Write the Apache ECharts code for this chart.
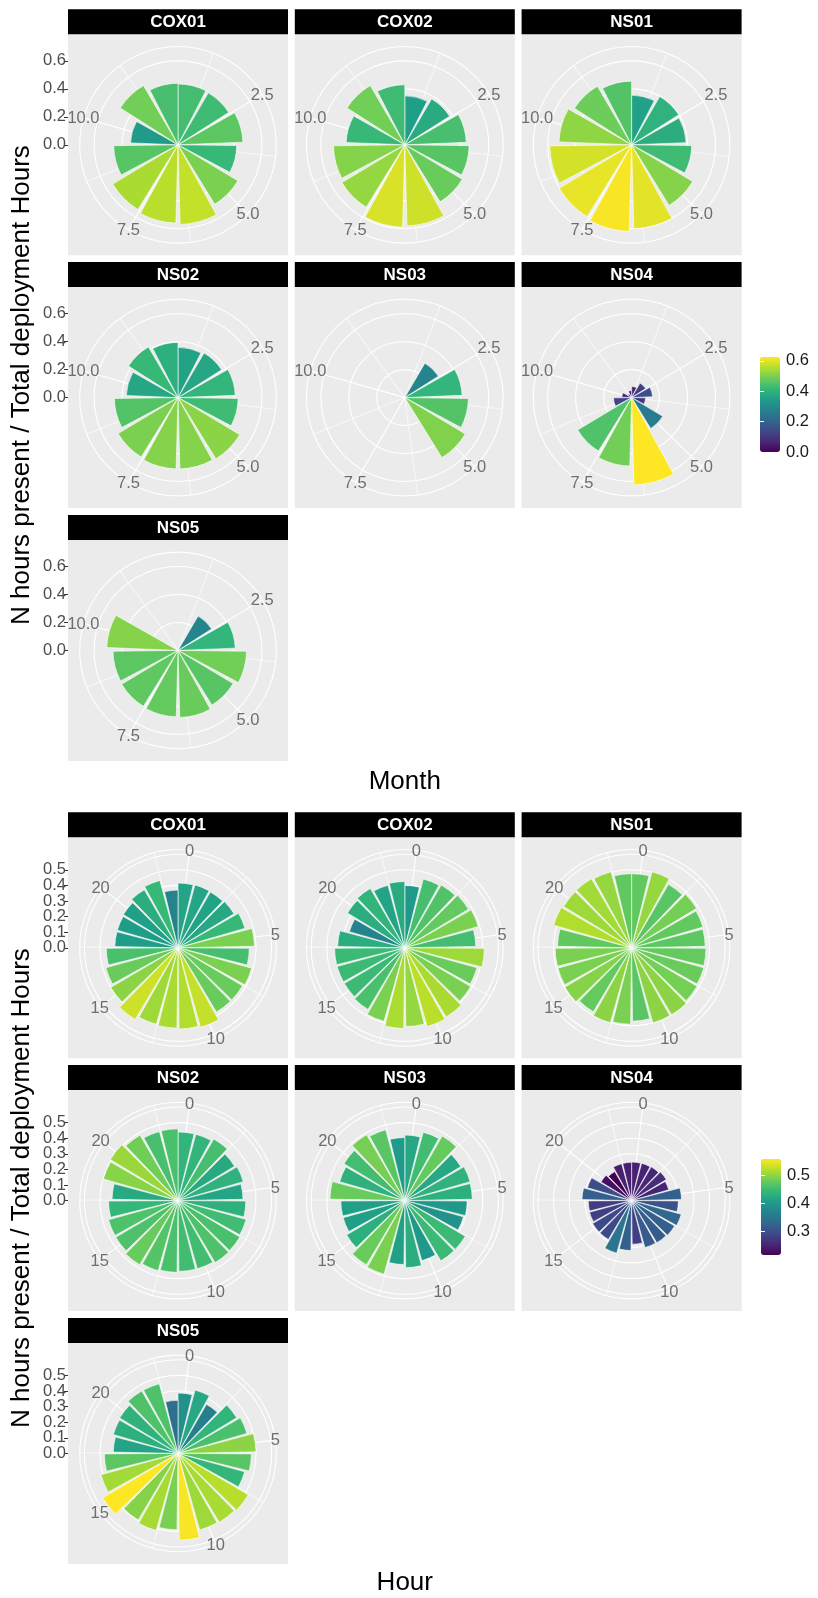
<!DOCTYPE html>
<html><head><meta charset="utf-8">
<script src="https://cdn.jsdelivr.net/npm/echarts@6/dist/echarts.min.js"></script>
<style>html,body{margin:0;padding:0;background:#fff}#c{width:818px;height:1598px}</style>
</head><body><div id="c"></div>
<script>
// ---------------- data ----------------
const stations = ['COX01', 'COX02', 'NS01', 'NS02', 'NS03', 'NS04', 'NS05'];
const months = [1, 2, 3, 4, 5, 6, 7, 8, 9, 10, 11, 12];
const hours = [0, 1, 2, 3, 4, 5, 6, 7, 8, 9, 10, 11, 12, 13, 14, 15, 16, 17, 18, 19, 20, 21, 22, 23];

const monthCOX01 = [0.435, 0.43, 0.465, 0.42, 0.50, 0.57, 0.56, 0.545, 0.46, 0.34, 0.49, 0.44];
const monthCOX02 = [0.35, 0.38, 0.44, 0.46, 0.48, 0.58, 0.59, 0.525, 0.51, 0.42, 0.49, 0.43];
const monthNS01 = [0.355, 0.40, 0.39, 0.43, 0.51, 0.60, 0.62, 0.605, 0.585, 0.52, 0.485, 0.455];
const monthNS02 = [0.36, 0.37, 0.41, 0.43, 0.515, 0.51, 0.51, 0.50, 0.455, 0.37, 0.42, 0.395];
const monthNS03 = [null, 0.285, 0.41, 0.455, 0.505, null, null, null, null, null, null, null];
const monthNS04 = [0.08, 0.12, 0.15, 0.10, 0.26, 0.625, 0.49, 0.45, 0.13, 0.07, 0.03, 0.05];
const monthNS05 = [null, 0.285, 0.41, 0.49, 0.46, 0.48, 0.475, 0.47, 0.465, 0.51, null, null];

const hourCOX01 = [0.415, 0.417, 0.414, 0.42, 0.447, 0.49, 0.457, 0.49, 0.48, 0.48, 0.53, 0.52, 0.515, 0.51, 0.535, 0.50, 0.48, 0.46, 0.405, 0.405, 0.41, 0.43, 0.447, 0.37];
const hourCOX02 = [0.40, 0.457, 0.465, 0.477, 0.49, 0.455, 0.51, 0.48, 0.49, 0.516, 0.525, 0.505, 0.517, 0.49, 0.46, 0.45, 0.45, 0.45, 0.43, 0.37, 0.43, 0.44, 0.415, 0.425];
const hourNS01 = [0.475, 0.505, 0.47, 0.487, 0.476, 0.472, 0.477, 0.48, 0.487, 0.50, 0.50, 0.47, 0.49, 0.50, 0.478, 0.497, 0.49, 0.49, 0.475, 0.52, 0.51, 0.512, 0.505, 0.475];
const hourNS02 = [0.44, 0.44, 0.457, 0.424, 0.436, 0.417, 0.435, 0.453, 0.46, 0.463, 0.454, 0.454, 0.46, 0.467, 0.479, 0.463, 0.462, 0.445, 0.423, 0.498, 0.507, 0.485, 0.458, 0.46];
const hourNS03 = [0.42, 0.454, 0.478, 0.42, 0.436, 0.433, 0.40, 0.39, 0.45, 0.45, 0.40, 0.43, 0.41, 0.49, 0.48, 0.433, 0.41, 0.41, 0.48, 0.435, 0.456, 0.488, 0.47, 0.404];
const hourNS04 = [0.247, 0.248, 0.25, 0.26, 0.248, 0.32, 0.30, 0.33, 0.32, 0.315, 0.313, 0.28, 0.32, 0.35, 0.29, 0.29, 0.28, 0.278, 0.318, 0.295, 0.23, 0.215, 0.245, 0.245];
const hourNS05 = [0.387, 0.42, 0.364, 0.44, 0.46, 0.50, 0.47, 0.443, 0.523, 0.515, 0.51, 0.557, 0.49, 0.514, 0.497, 0.56, 0.512, 0.472, 0.415, 0.432, 0.438, 0.463, 0.462, 0.34];

const monthThetaBreaks = [2.5, 5, 7.5, 10];
const monthThetaLabels = ['2.5', '5.0', '7.5', '10.0'];
const hourThetaBreaks = [0, 5, 10, 15, 20];
const hourThetaLabels = ['0', '5', '10', '15', '20'];
const monthRBreaks = [0, 0.2, 0.4, 0.6];
const monthRLabels = ['0.0', '0.2', '0.4', '0.6'];
const hourRBreaks = [0, 0.1, 0.2, 0.3, 0.4, 0.5];
const hourRLabels = ['0.0', '0.1', '0.2', '0.3', '0.4', '0.5'];
const monthLegendBreaks = [0, 0.2, 0.4, 0.6];
const monthLegendLabels = ['0.0', '0.2', '0.4', '0.6'];
const hourLegendBreaks = [0.3, 0.4, 0.5];
const hourLegendLabels = ['0.3', '0.4', '0.5'];
const monthFillRange = [0, 0.625];
const hourFillRange = [0.215, 0.56];

const yTitle = 'N hours present / Total deployment Hours';
const monthTitle = 'Month';
const hourTitle = 'Hour';

// ---------------- layout / style ----------------
const FONT = '"Liberation Sans", Arial, sans-serif';
const VIRIDIS = ['#440154', '#482878', '#3E4A89', '#31688E', '#26828E', '#1F9E89', '#35B779', '#6DCD59', '#B4DE2C', '#FDE725'];
const COL_LEFT = [68, 294.8, 521.6];
const PW = 220, PH = 221, STRIP_H = 25, ROW_PITCH = 252.8;
const R_OUT = 98.3;

const figs = [
  {
    top: 9.3, xs: months, series: [monthCOX01, monthCOX02, monthNS01, monthNS02, monthNS03, monthNS04, monthNS05],
    thetaBreaks: monthThetaBreaks, thetaLabels: monthThetaLabels, minorStep: 1.25, majorStep: 2.5, firstTick: 1.25,
    rBreaks: monthRBreaks, rLabels: monthRLabels, rInterval: 0.2,
    fill: monthFillRange, legBreaks: monthLegendBreaks, legLabels: monthLegendLabels,
    legBar: { left: 760, top: 357, w: 20, h: 95 }, legAxis: [0, 0.8], legInterval: 0.2,
    title: monthTitle, titleY: 782
  },
  {
    top: 812.3, xs: hours, series: [hourCOX01, hourCOX02, hourNS01, hourNS02, hourNS03, hourNS04, hourNS05],
    thetaBreaks: hourThetaBreaks, thetaLabels: hourThetaLabels, minorStep: 2.5, majorStep: 5, firstTick: 0,
    rBreaks: hourRBreaks, rLabels: hourRLabels, rInterval: 0.1,
    fill: hourFillRange, legBreaks: hourLegendBreaks, legLabels: hourLegendLabels,
    legBar: { left: 761, top: 1159, w: 20, h: 96 }, legAxis: [0.2, 0.6], legInterval: 0.1,
    title: hourTitle, titleY: 1583
  }
];

const option = {
  animation: false,
  backgroundColor: '#ffffff',
  polar: [], angleAxis: [], radiusAxis: [], series: [], grid: [], xAxis: [], yAxis: [], visualMap: [], graphic: []
};

function near(a, b) { return Math.abs(a - b) < 1e-6; }

figs.forEach((fig, fi) => {
  const xs = fig.xs;
  const lo = xs[0] - 0.45;
  const span = xs[xs.length - 1] - xs[0] + 0.9;
  const yMax = Math.max(...figs[fi].series.flat().filter(v => v != null));
  const rMax = yMax * 1.125; // ggplot: data range -> 0.4, outer circle at 0.45
  const pxPerUnit = R_OUT / rMax;
  const tMin = fig.firstTick, tMax = fig.firstTick + span;
  const startAngle = 90 - (tMin - lo) / span * 360;
  const lineColors = [];
  for (let t = tMin; t <= tMax + 1e-9; t += fig.minorStep) {
    const tt = Math.round(t * 1000) / 1000;
    if (tt > lo + span - 1e-6 || tt < lo) lineColors.push('rgba(255,255,255,0)');
    else if (near(tt / fig.majorStep, Math.round(tt / fig.majorStep))) lineColors.push('#ffffff');
    else lineColors.push('rgba(255,255,255,0.6)');
  }
  lineColors.push('rgba(255,255,255,0)');
  const seriesIdx = [];

  stations.forEach((st, pi) => {
    const row = Math.floor(pi / 3), col = pi % 3;
    const left = COL_LEFT[col];
    const stripTop = fig.top + row * ROW_PITCH;
    const panelTop = stripTop + STRIP_H;
    const cx = left + PW / 2, cy = panelTop + PH / 2;
    const polarIndex = option.polar.length;

    option.graphic.push(
      { type: 'rect', z: -10, silent: true, shape: { x: left, y: panelTop, width: PW, height: PH }, style: { fill: '#EBEBEB' } },
      { type: 'rect', z: -10, silent: true, shape: { x: left, y: stripTop, width: PW, height: STRIP_H }, style: { fill: '#000000' } },
      { type: 'text', z: 10, silent: true, x: cx, y: stripTop + STRIP_H / 2 + 0.5,
        style: { text: st, fill: '#ffffff', font: 'bold 17px ' + FONT, textAlign: 'center', textVerticalAlign: 'middle' } }
    );

    option.polar.push({ center: [cx, cy], radius: [0, R_OUT] });
    option.radiusAxis.push({
      polarIndex, type: 'value', min: 0, max: rMax, interval: fig.rInterval,
      axisLine: { show: false }, axisTick: { show: false }, axisLabel: { show: false },
      splitLine: { show: true, lineStyle: { color: '#ffffff', width: 1.1 } }, z: 1
    });
    option.angleAxis.push({
      polarIndex, type: 'value', min: tMin, max: tMax, interval: fig.minorStep,
      startAngle, clockwise: true,
      axisLine: { show: false }, axisTick: { show: false }, axisLabel: { show: false },
      splitLine: { show: true, lineStyle: { color: lineColors, width: 1.1 } }, z: 1
    });

    const vals = fig.series[pi];
    const data = [];
    xs.forEach((x, i) => { if (vals[i] != null) data.push([vals[i], x]); });
    seriesIdx.push(option.series.length);
    option.series.push({
      type: 'custom', coordinateSystem: 'polar', polarIndex, silent: true,
      data, z: 3,
      renderItem: function (params, api) {
        const v = api.value(0), x = api.value(1);
        const a = api.coord([v, x - 0.45]);
        const b = api.coord([v, x + 0.45]);
        return {
          type: 'sector',
          shape: { cx: params.coordSys.cx, cy: params.coordSys.cy, r0: 0, r: a[2], startAngle: -a[3], endAngle: -b[3], clockwise: true },
          style: { fill: api.visual('color'), stroke: '#ffffff', lineWidth: 0.6 }
        };
      }
    });
    option.series.push({
      type: 'scatter', coordinateSystem: 'polar', polarIndex, silent: true, z: 5,
      symbol: 'circle', symbolSize: 1, itemStyle: { color: 'rgba(0,0,0,0)' },
      data: fig.thetaBreaks.map((b, k) => ({ value: [rMax, b], name: fig.thetaLabels[k] })),
      label: { show: true, position: 'inside', formatter: p => p.name, color: '#4D4D4D', fontSize: 16.5, fontFamily: FONT, offset: [0, 1] }
    });

    if (col === 0) {
      const topVal = fig.rBreaks[fig.rBreaks.length - 1];
      const gi = option.grid.length;
      option.grid.push({ left: left, top: cy - topVal * pxPerUnit, width: 10, height: topVal * pxPerUnit, show: false });
      option.xAxis.push({ gridIndex: gi, type: 'value', show: false, min: 0, max: 1 });
      // two overlaid axes (alternate labels) so that tightly stacked labels are all kept
      [0, 1].forEach(parity => {
        option.yAxis.push({
          gridIndex: gi, type: 'value', min: 0, max: topVal, interval: fig.rInterval, position: 'left', offset: 0,
          axisLine: { show: false }, splitLine: { show: false },
          axisTick: { show: parity === 0, length: 4, lineStyle: { color: '#333333', width: 1 } },
          axisLabel: { show: true, margin: 2, color: '#4D4D4D', fontSize: 16.5, fontFamily: FONT,
            showMinLabel: true, showMaxLabel: true, hideOverlap: false,
            formatter: v => { const k = fig.rBreaks.findIndex(b => near(b, v)); return (k >= 0 && k % 2 === parity) ? fig.rLabels[k] : ''; } }
        });
      });
    }
  });

  option.visualMap.push({
    type: 'continuous', seriesIndex: seriesIdx, dimension: 0, min: fig.fill[0], max: fig.fill[1],
    calculable: false, realtime: false, show: true, orient: 'vertical', padding: 0,
    left: fig.legBar.left, top: fig.legBar.top, itemWidth: fig.legBar.w, itemHeight: fig.legBar.h,
    text: null, showLabel: false, hoverLink: false,
    inRange: { color: VIRIDIS }
  });
  const lb = fig.legBar;
  const unit = lb.h / (fig.fill[1] - fig.fill[0]);
  const gTop = lb.top + (fig.fill[1] - fig.legAxis[1]) * unit;
  const gH = (fig.legAxis[1] - fig.legAxis[0]) * unit;
  const legFmt = v => { const k = fig.legBreaks.findIndex(b => near(b, v)); return k >= 0 ? fig.legLabels[k] : ''; };
  const gi = option.grid.length;
  option.grid.push({ left: lb.left, top: gTop, width: lb.w, height: gH, show: false, z: 10 });
  option.xAxis.push({ gridIndex: gi, type: 'value', show: false, min: 0, max: 1 });
  option.yAxis.push({
    gridIndex: gi, type: 'value', min: fig.legAxis[0], max: fig.legAxis[1], interval: fig.legInterval, position: 'right', z: 10,
    axisLine: { show: false }, splitLine: { show: false },
    axisTick: { show: true, inside: true, length: 4, lineStyle: { color: '#ffffff', width: 1 } },
    axisLabel: { show: true, margin: 6, color: '#1A1A1A', fontSize: 16.5, fontFamily: FONT, formatter: legFmt, showMinLabel: true, showMaxLabel: true }
  });
  option.yAxis.push({
    gridIndex: gi, type: 'value', min: fig.legAxis[0], max: fig.legAxis[1], interval: fig.legInterval, position: 'left', z: 10,
    axisLine: { show: false }, splitLine: { show: false }, axisLabel: { show: false },
    axisTick: { show: true, inside: true, length: 4, lineStyle: { color: '#ffffff', width: 1 } }
  });

  const figPanelsTop = fig.top, figPanelsBottom = fig.top + 2 * ROW_PITCH + STRIP_H + PH;
  option.graphic.push(
    { type: 'text', silent: true, x: (COL_LEFT[0] + COL_LEFT[2] + PW) / 2, y: fig.titleY,
      style: { text: fig.title, fill: '#000000', font: '26px ' + FONT, textAlign: 'center', textVerticalAlign: 'middle' } },
    { type: 'text', silent: true, x: 22, y: (figPanelsTop + figPanelsBottom) / 2, rotation: Math.PI / 2,
      style: { text: yTitle, fill: '#000000', font: '26px ' + FONT, textAlign: 'center', textVerticalAlign: 'middle' } }
  );
});

const chart = echarts.init(document.getElementById('c'), null, { renderer: 'canvas', width: 818, height: 1598 });
chart.setOption(option);
</script>
</body></html>
